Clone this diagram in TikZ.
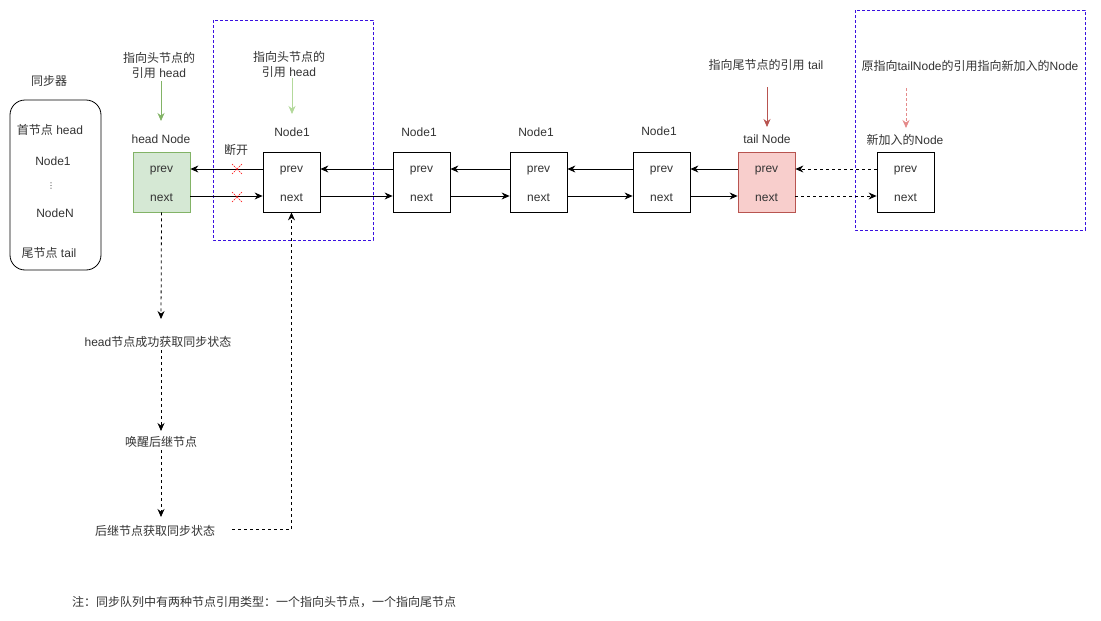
\documentclass[tikz,border=0pt]{standalone}
\usepackage{fontspec}
\setmainfont{Liberation Sans}
\newfontfamily\cjk{Noto Sans CJK SC}
\newfontfamily\symfont{DejaVu Sans}
\usetikzlibrary{arrows.meta}
\definecolor{txt}{HTML}{333333}
\definecolor{gfill}{HTML}{D5E8D4}
\definecolor{gline}{HTML}{82B366}
\definecolor{glight}{HTML}{B3D99B}
\definecolor{rfill}{HTML}{F8CECC}
\definecolor{rline}{HTML}{B85450}
\definecolor{rlight}{HTML}{E58A8A}
\definecolor{bdash}{HTML}{3A10E0}
\tikzset{
  lbl/.style={text=txt,font=\fontsize{12}{15}\selectfont,inner sep=1pt,align=center,yshift=-2pt},
  nbox/.style={draw=black,line width=0.8pt,minimum width=57pt,minimum height=60pt,inner sep=0pt},
  arr/.style={line width=0.8pt,-{Stealth[length=8pt,width=7pt]}},
  darr/.style={arr,dashed,dash pattern=on 3pt off 3pt},
  grp/.style={draw=bdash,line width=0.8pt,dash pattern=on 3pt off 2pt},
}
\begin{document}
\begin{tikzpicture}[x=1pt,y=-1pt]
\useasboundingbox (0,0) rectangle (1101,621);
\fill[white] (0,0) rectangle (1101,621);
% groups
\draw[grp] (213,20) rectangle (373,240);
\draw[grp] (855,10) rectangle (1085,230);
% synchronizer
\node[lbl] (syn) at (49,79) {\cjk 同步器};
\draw[line width=0.8pt,rounded corners=15pt] (10,100) rectangle (101,270);
\node[lbl] (s1) at (50,128) {{\cjk 首节点} head};
\node[lbl] (s2) at (53,159) {Node1};
\node[lbl] (s3) at (51,184) {\symfont\fontsize{8}{8}\selectfont ⋮};
\node[lbl] (s4) at (55,211) {NodeN};
\node[lbl] (s5) at (49,251) {{\cjk 尾节点} tail};
% nodes
\node[nbox,fill=gfill,draw=gline] (h) at (161.5,182) {};
\node[nbox] (n1) at (291.5,182) {};
\node[nbox] (n2) at (421.5,182) {};
\node[nbox] (n3) at (538.5,182) {};
\node[nbox] (n4) at (661.5,182) {};
\node[nbox,fill=rfill,draw=rline] (t) at (766.5,182) {};
\node[nbox] (nw) at (905.5,182) {};
\foreach \n in {h,n1,n2,n3,n4,t,nw}{
  \node[lbl] (\n p) at ([yshift=13pt]\n.center) {prev};
  \node[lbl] (\n x) at ([yshift=-14pt]\n.center) {next};
}
% titles
\node[lbl] (th) at (161,137) {head Node};
\node[lbl] (t1) at (292,130) {Node1};
\node[lbl] (t2) at (419,130) {Node1};
\node[lbl] (t3) at (536,130) {Node1};
\node[lbl] (t4) at (659,129) {Node1};
\node[lbl] (tt) at (767,137) {tail Node};
\node[lbl] (tn) at (905,138) {{\cjk 新加入的}Node};
% references
\node[lbl] (rh1) at (159,63) {{\cjk 指向头节点的}\\{\cjk 引用} head};
\node[lbl] (rh2) at (289,62) {{\cjk 指向头节点的}\\{\cjk 引用} head};
\node[lbl] (rt) at (766,63) {{\cjk 指向尾节点的引用} tail};
\node[lbl] (rn) at (970,64) {{\cjk 原指向}tailNode{\cjk 的引用指向新加入的}Node};
\coordinate (a1) at (161,81); \coordinate (b1) at (161,121);
\coordinate (a2) at (292,78); \coordinate (b2) at (292,114);
\coordinate (a3) at (767,87); \coordinate (b3) at (767,127);
\coordinate (a4) at (906,88); \coordinate (b4) at (906,128);
\draw[arr,gline] (a1) -- (b1);
\draw[arr,glight] (a2) -- (b2);
\draw[arr,rline] (a3) -- (b3);
\draw[arr,rlight,dash pattern=on 3pt off 2pt] (a4) -- (b4);
% links
\foreach \l/\r in {h/n1,n1/n2,n2/n3,n3/n4,n4/t}{
  \draw[arr] ([yshift=13pt]\r.west) -- ([yshift=13pt]\l.east);
  \draw[arr] ([yshift=-14pt]\l.east) -- ([yshift=-14pt]\r.west);
}
\draw[darr] ([yshift=13pt]nw.west) -- ([yshift=13pt]t.east);
\draw[darr] ([yshift=-14pt]t.east) -- ([yshift=-14pt]nw.west);
% break marks
\node[lbl] (dk) at (236,148) {\cjk 断开};
\foreach \yy in {169,197}{
  \draw[red,line width=0.6pt,dash pattern=on 1.5pt off 1pt] (232,\yy-5) -- (242,\yy+5) (232,\yy+5) -- (242,\yy-5);
}
% flow
\node[lbl] (f1) at (158,340) {head{\cjk 节点成功获取同步状态}};
\node[lbl] (f2) at (161,440) {\cjk 唤醒后继节点};
\node[lbl] (f3) at (155,529) {\cjk 后继节点获取同步状态};
\coordinate (f3e) at (232,529);
\draw[darr] (h.south) -- (161,319);
\draw[darr] (161,350) -- (161,431);
\draw[darr] (161,450) -- (161,517);
\draw[darr] (f3e) -| (n1.south);
% note
\node[lbl,anchor=west] (note) at (71,600) {\cjk 注：同步队列中有两种节点引用类型：一个指向头节点，一个指向尾节点};
\end{tikzpicture}
\end{document}
